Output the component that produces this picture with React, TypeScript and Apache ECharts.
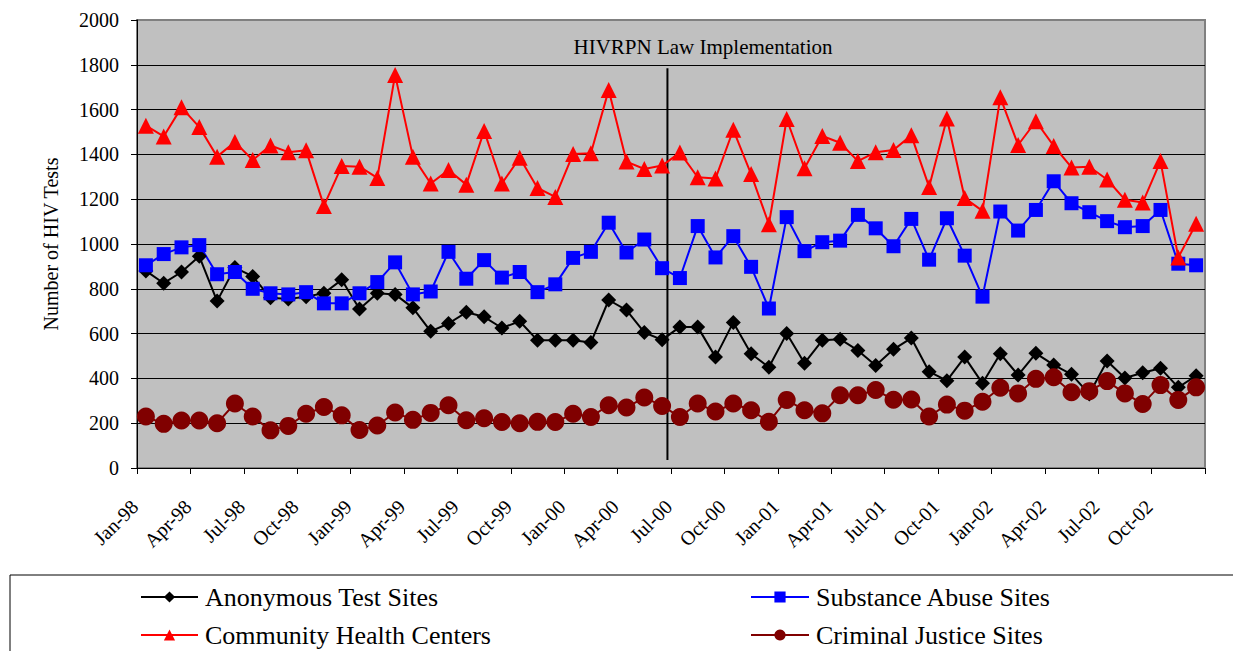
import React, { useEffect, useRef } from "react";
import * as echarts from "echarts";

const MONTHS = [
  "Jan-98", "Feb-98", "Mar-98", "Apr-98", "May-98", "Jun-98", "Jul-98", "Aug-98", "Sep-98", "Oct-98", "Nov-98", "Dec-98",
  "Jan-99", "Feb-99", "Mar-99", "Apr-99", "May-99", "Jun-99", "Jul-99", "Aug-99", "Sep-99", "Oct-99", "Nov-99", "Dec-99",
  "Jan-00", "Feb-00", "Mar-00", "Apr-00", "May-00", "Jun-00", "Jul-00", "Aug-00", "Sep-00", "Oct-00", "Nov-00", "Dec-00",
  "Jan-01", "Feb-01", "Mar-01", "Apr-01", "May-01", "Jun-01", "Jul-01", "Aug-01", "Sep-01", "Oct-01", "Nov-01", "Dec-01",
  "Jan-02", "Feb-02", "Mar-02", "Apr-02", "May-02", "Jun-02", "Jul-02", "Aug-02", "Sep-02", "Oct-02", "Nov-02", "Dec-02",
];

const ANONYMOUS = [
  880, 825, 875, 945, 745, 895, 855, 760, 755, 765, 780, 840,
  710, 780, 775, 715, 610, 645, 695, 675, 625, 655, 570, 570,
  570, 560, 750, 705, 605, 572, 630, 630, 495, 650, 510, 450,
  600, 468, 570, 575, 525, 458, 530, 580, 430, 390, 495, 378,
  510, 415, 512, 460, 418, 330, 478, 402, 425, 445, 360, 412,
];

const SUBSTANCE = [
  905, 955, 985, 995, 865, 875, 800, 780, 775, 785, 735, 735,
  780, 830, 918, 775, 788, 965, 845, 928, 850, 875, 785, 820,
  938, 965, 1095, 962, 1020, 892, 848, 1080, 940, 1035, 898, 712,
  1120, 968, 1008, 1015, 1130, 1070, 990, 1112, 930, 1115, 948, 765,
  1145, 1060, 1152, 1280, 1182, 1142, 1102, 1075, 1080, 1152, 912, 905,
];

const COMMUNITY = [
  1528, 1480, 1610, 1522, 1390, 1455, 1375, 1440, 1410, 1418, 1170, 1348,
  1345, 1295, 1755, 1390, 1270, 1330, 1265, 1505, 1270, 1385, 1250, 1210,
  1402, 1405, 1688, 1368, 1335, 1350, 1408, 1298, 1292, 1510, 1312, 1088,
  1558, 1338, 1482, 1452, 1370, 1410, 1420, 1485, 1255, 1560, 1205, 1148,
  1655, 1442, 1548, 1438, 1342, 1345, 1288, 1198, 1185, 1370, 940, 1090,
];

const CRIMINAL = [
  230, 197, 212, 212, 200, 288, 230, 168, 188, 242, 272, 235,
  170, 190, 248, 215, 246, 280, 213, 222, 205, 200, 206, 205,
  242, 228, 280, 270, 315, 277, 228, 288, 252, 288, 258, 206,
  304, 258, 244, 325, 325, 348, 305, 306, 230, 283, 256, 296,
  358, 333, 398, 405, 338, 343, 388, 333, 286, 370, 304, 360,
];

const Y_TICKS = { min: 0, max: 2000, interval: 200 };
// Law implementation marker, in month-index units on a hidden value axis
const LAW_LINE_X = 29.8;
const LAW_LINE_Y = [36, 1785];
const LAW_LABEL = "HIVRPN Law Implementation";

const FONT = "'Liberation Serif', 'Times New Roman', serif";

export default function App() {
  const ref = useRef<HTMLDivElement>(null);

  useEffect(() => {
    if (!ref.current) return;
    const chart = echarts.init(ref.current, undefined, { renderer: "svg" });

    const mk = (name: string, data: number[], color: string, symbol: string, size: number) => ({
      name,
      type: "line",
      data,
      symbol,
      symbolSize: size,
      showAllSymbol: true,
      lineStyle: { color, width: 2 },
      itemStyle: { color, borderWidth: 0 },
      emphasis: { disabled: true },
    });

    const legendCommon = {
      orient: "vertical",
      top: 584,
      height: 70,
      padding: 0,
      itemGap: 12,
      itemWidth: 57,
      itemHeight: 14,
      selectedMode: false,
      textStyle: { fontSize: 26, fontFamily: FONT, color: "#000", padding: [0, 0, 0, 2] },
    };

    chart.setOption({
      animation: false,
      backgroundColor: "#fff",
      textStyle: { fontFamily: FONT },
      grid: {
        left: 137,
        right: 28,
        top: 20,
        bottom: 183,
        show: true,
        backgroundColor: "#C0C0C0",
        borderColor: "#808080",
        borderWidth: 2,
      },
      legend: [
        { ...legendCommon, left: 140, data: ["Anonymous Test Sites", "Community Health Centers"] },
        { ...legendCommon, left: 750, itemWidth: 58, data: ["Substance Abuse Sites", "Criminal Justice Sites"] },
      ],
      xAxis: [
        {
          type: "category",
          data: MONTHS,
          boundaryGap: true,
          axisLine: { lineStyle: { color: "#000", width: 1 } },
          axisTick: { show: true, interval: 2, length: 6, lineStyle: { color: "#000" } },
          axisLabel: {
            interval: 2,
            rotate: 45,
            margin: 24,
            padding: [0, 16, 0, 0],
            fontSize: 20,
            fontFamily: FONT,
            color: "#000",
          },
          splitLine: { show: false },
        },
        {
          type: "value",
          min: 0,
          max: 60,
          show: false,
          splitLine: { show: false },
        },
      ],
      yAxis: {
        type: "value",
        min: Y_TICKS.min,
        max: Y_TICKS.max,
        interval: Y_TICKS.interval,
        name: "Number of HIV Tests",
        nameLocation: "middle",
        nameGap: 76,
        nameTextStyle: { fontSize: 20, fontFamily: FONT, color: "#000" },
        axisLine: { show: true, lineStyle: { color: "#000", width: 1 } },
        axisTick: { show: true, length: 6, lineStyle: { color: "#000" } },
        axisLabel: {
          margin: 18,
          fontSize: 20,
          fontFamily: FONT,
          color: "#000",
          formatter: (v: number) => String(v),
        },
        splitLine: { show: true, showMaxLine: false, lineStyle: { color: "#000", width: 1 } },
      },
      graphic: [
        {
          type: "rect",
          z: -1,
          shape: { x: 10, y: 575, width: 1240, height: 100 },
          style: { fill: "#fff", stroke: "#000", lineWidth: 1 },
        },
        {
          type: "text",
          x: 703,
          y: 47,
          z: 10,
          style: {
            text: LAW_LABEL,
            fontSize: 21,
            fontFamily: FONT,
            fill: "#000",
            align: "center",
            verticalAlign: "middle",
          },
        },
      ],
      series: [
        mk("Anonymous Test Sites", ANONYMOUS, "#000000", "diamond", 15),
        mk("Substance Abuse Sites", SUBSTANCE, "#0000FF", "rect", 14),
        mk("Community Health Centers", COMMUNITY, "#FF0000", "triangle", 16),
        mk("Criminal Justice Sites", CRIMINAL, "#800000", "circle", 18),
        {
          name: "law",
          type: "line",
          xAxisIndex: 1,
          data: [
            [LAW_LINE_X, LAW_LINE_Y[0]],
            [LAW_LINE_X, LAW_LINE_Y[1]],
          ],
          symbol: "none",
          silent: true,
          lineStyle: { color: "#000", width: 2 },
          z: 1,
        },
      ],
    });

    return () => chart.dispose();
  }, []);

  return (
    <div
      ref={ref}
      style={{ position: "fixed", left: 0, top: 0, width: 1233, height: 651, background: "#fff" }}
    />
  );
}
